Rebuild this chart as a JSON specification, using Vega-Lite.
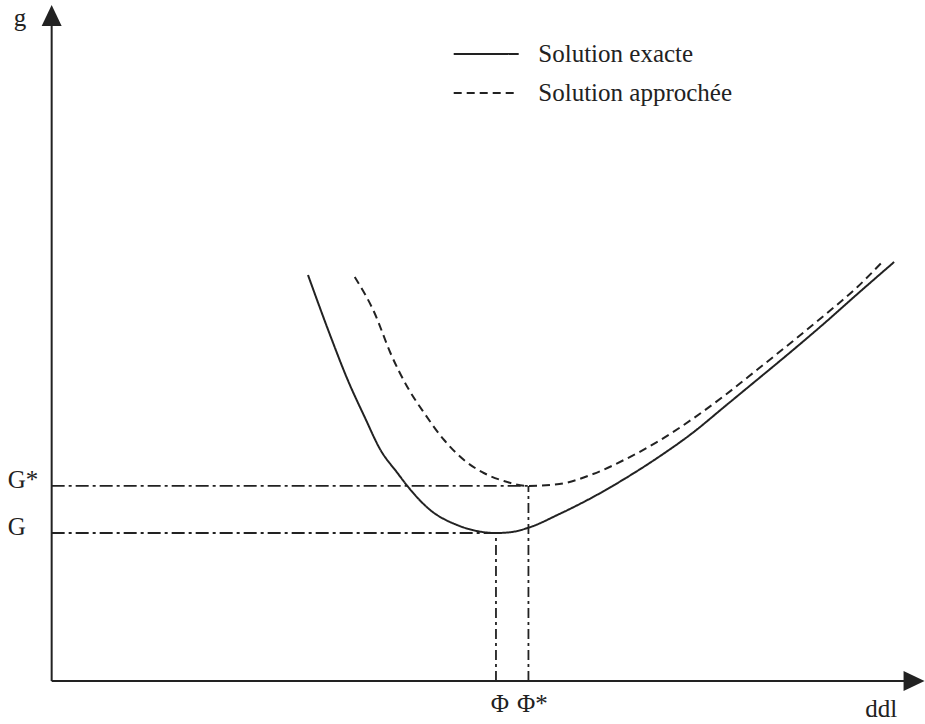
{
  "$schema": "https://vega.github.io/schema/vega-lite/v6.json",
  "width": 925,
  "height": 724,
  "autosize": {"type": "fit", "contains": "padding"},
  "padding": 0,
  "background": "white",
  "config": {
    "view": {"stroke": null},
    "text": {"font": "Liberation Serif", "fontSize": 25, "color": "#222"}
  },
  "datasets": {
    "courbes": [
      {"serie": "Solution exacte", "ddl": 30.00, "g": 60.06},
      {"serie": "Solution exacte", "ddl": 32.67, "g": 50.89},
      {"serie": "Solution exacte", "ddl": 34.65, "g": 44.53},
      {"serie": "Solution exacte", "ddl": 36.63, "g": 39.05},
      {"serie": "Solution exacte", "ddl": 38.49, "g": 34.17},
      {"serie": "Solution exacte", "ddl": 40.47, "g": 30.77},
      {"serie": "Solution exacte", "ddl": 41.63, "g": 28.85},
      {"serie": "Solution exacte", "ddl": 44.30, "g": 25.30},
      {"serie": "Solution exacte", "ddl": 47.44, "g": 23.08},
      {"serie": "Solution exacte", "ddl": 49.77, "g": 22.19},
      {"serie": "Solution exacte", "ddl": 51.98, "g": 21.89},
      {"serie": "Solution exacte", "ddl": 53.84, "g": 22.04},
      {"serie": "Solution exacte", "ddl": 55.70, "g": 22.63},
      {"serie": "Solution exacte", "ddl": 59.42, "g": 24.70},
      {"serie": "Solution exacte", "ddl": 63.37, "g": 27.22},
      {"serie": "Solution exacte", "ddl": 67.21, "g": 30.03},
      {"serie": "Solution exacte", "ddl": 71.05, "g": 33.14},
      {"serie": "Solution exacte", "ddl": 75.00, "g": 36.69},
      {"serie": "Solution exacte", "ddl": 78.84, "g": 40.68},
      {"serie": "Solution exacte", "ddl": 82.67, "g": 44.67},
      {"serie": "Solution exacte", "ddl": 86.63, "g": 48.82},
      {"serie": "Solution exacte", "ddl": 90.47, "g": 52.96},
      {"serie": "Solution exacte", "ddl": 94.30, "g": 57.25},
      {"serie": "Solution exacte", "ddl": 98.60, "g": 61.98},
      {"serie": "Solution approchée", "ddl": 35.47, "g": 59.76},
      {"serie": "Solution approchée", "ddl": 37.79, "g": 54.44},
      {"serie": "Solution approchée", "ddl": 39.65, "g": 48.52},
      {"serie": "Solution approchée", "ddl": 41.63, "g": 43.49},
      {"serie": "Solution approchée", "ddl": 43.60, "g": 39.64},
      {"serie": "Solution approchée", "ddl": 45.93, "g": 35.65},
      {"serie": "Solution approchée", "ddl": 48.26, "g": 32.69},
      {"serie": "Solution approchée", "ddl": 50.58, "g": 30.77},
      {"serie": "Solution approchée", "ddl": 52.91, "g": 29.59},
      {"serie": "Solution approchée", "ddl": 55.70, "g": 28.85},
      {"serie": "Solution approchée", "ddl": 59.42, "g": 29.14},
      {"serie": "Solution approchée", "ddl": 63.37, "g": 30.62},
      {"serie": "Solution approchée", "ddl": 67.21, "g": 32.84},
      {"serie": "Solution approchée", "ddl": 71.05, "g": 35.50},
      {"serie": "Solution approchée", "ddl": 75.00, "g": 38.76},
      {"serie": "Solution approchée", "ddl": 78.84, "g": 42.31},
      {"serie": "Solution approchée", "ddl": 82.67, "g": 46.15},
      {"serie": "Solution approchée", "ddl": 86.63, "g": 50.15},
      {"serie": "Solution approchée", "ddl": 90.47, "g": 54.14},
      {"serie": "Solution approchée", "ddl": 94.30, "g": 58.28},
      {"serie": "Solution approchée", "ddl": 97.09, "g": 61.83}
    ],
    "optimums": [
      {"serie": "Solution exacte", "origine": 0, "phi": 52.0, "G": 21.89, "nomG": "G", "nomPhi": "Φ"},
      {"serie": "Solution approchée", "origine": 0, "phi": 55.8, "G": 28.85, "nomG": "G*", "nomPhi": "Φ*"}
    ],
    "reperes": [
      {"nom": "g", "ddl0": 0, "g0": 0, "ddl1": 0, "g1": 96.9, "flecheX": 0, "flecheY": 98.45, "labelX": -3.72, "labelY": 96.9},
      {"nom": "ddl", "ddl0": 0, "g0": 0, "ddl1": 99.77, "g1": 0, "flecheX": 100.93, "flecheY": 0, "labelX": 97.09, "labelY": -5.33}
    ]
  },
  "layer": [
    {
      "data": {"name": "courbes"},
      "mark": {"type": "line", "color": "#222", "strokeWidth": 2, "interpolate": "monotone"},
      "encoding": {
        "x": {"field": "ddl", "type": "quantitative", "axis": null, "scale": {"domain": [-6.047, 101.51], "nice": false, "zero": false}},
        "y": {"field": "g", "type": "quantitative", "axis": null, "scale": {"domain": [-6.361, 100.74], "nice": false, "zero": false}},
        "strokeDash": {
          "field": "serie", "type": "nominal",
          "scale": {"domain": ["Solution exacte", "Solution approchée"], "range": [[1, 0], [8, 5]]},
          "legend": {
            "title": null, "orient": "none", "legendX": 473.7, "legendY": 41.5,
            "symbolType": "M-3,0L3,0", "symbolSize": 469.4, "symbolStrokeWidth": 2, "symbolStrokeColor": "#222",
            "labelFont": "Liberation Serif", "labelFontSize": 25, "labelColor": "#222",
            "labelOffset": 39.6, "rowPadding": 13, "padding": 0, "labelLimit": 400
          }
        }
      }
    },
    {
      "data": {"name": "optimums"},
      "mark": {"type": "rule", "color": "#222", "strokeWidth": 1.8, "strokeDash": [13, 4, 3, 4]},
      "encoding": {
        "x": {"field": "origine", "type": "quantitative", "axis": null},
        "x2": {"field": "phi"},
        "y": {"field": "G", "type": "quantitative", "axis": null}
      }
    },
    {
      "data": {"name": "optimums"},
      "mark": {"type": "rule", "color": "#222", "strokeWidth": 1.8, "strokeDash": [10, 4, 3, 4]},
      "encoding": {
        "x": {"field": "phi", "type": "quantitative", "axis": null},
        "y": {"field": "origine", "type": "quantitative", "axis": null},
        "y2": {"field": "G"}
      }
    },
    {
      "data": {"name": "optimums"},
      "mark": {"type": "text", "align": "left", "baseline": "alphabetic", "dx": -44, "dy": 2},
      "encoding": {
        "x": {"field": "origine", "type": "quantitative", "axis": null},
        "y": {"field": "G", "type": "quantitative", "axis": null},
        "text": {"field": "nomG", "type": "nominal"}
      }
    },
    {
      "data": {"name": "optimums"},
      "mark": {"type": "text", "align": "center", "baseline": "alphabetic", "dx": 4, "dy": 31},
      "encoding": {
        "x": {"field": "phi", "type": "quantitative", "axis": null},
        "y": {"field": "origine", "type": "quantitative", "axis": null},
        "text": {"field": "nomPhi", "type": "nominal"}
      }
    },
    {
      "data": {"name": "reperes"},
      "mark": {"type": "rule", "color": "#222", "strokeWidth": 2},
      "encoding": {
        "x": {"field": "ddl0", "type": "quantitative", "axis": null},
        "x2": {"field": "ddl1"},
        "y": {"field": "g0", "type": "quantitative", "axis": null},
        "y2": {"field": "g1"}
      }
    },
    {
      "data": {"name": "reperes"},
      "mark": {"type": "point", "filled": true, "color": "#222", "opacity": 1, "size": 441},
      "encoding": {
        "x": {"field": "flecheX", "type": "quantitative", "axis": null},
        "y": {"field": "flecheY", "type": "quantitative", "axis": null},
        "shape": {
          "field": "nom", "type": "nominal", "legend": null,
          "scale": {"domain": ["g", "ddl"], "range": ["M0,-1L0.95,1L-0.95,1Z", "M1,0L-1,-0.95L-1,0.95Z"]}
        }
      }
    },
    {
      "data": {"name": "reperes"},
      "mark": {"type": "text", "align": "center", "baseline": "alphabetic"},
      "encoding": {
        "x": {"field": "labelX", "type": "quantitative", "axis": null},
        "y": {"field": "labelY", "type": "quantitative", "axis": null},
        "text": {"field": "nom", "type": "nominal"}
      }
    }
  ]
}
